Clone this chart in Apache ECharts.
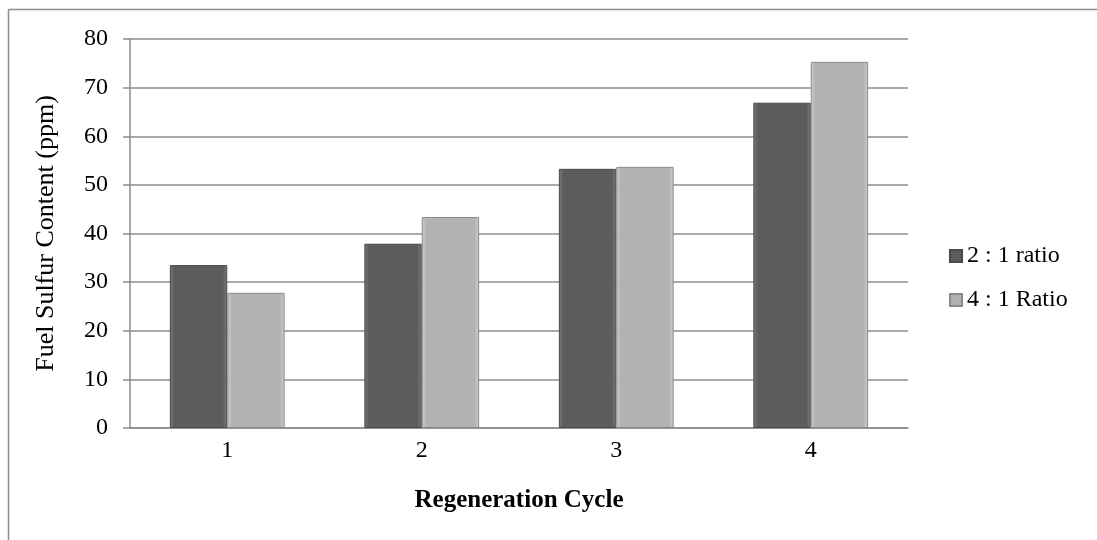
<!DOCTYPE html>
<html>
<head>
<meta charset="utf-8">
<script src="https://cdn.jsdelivr.net/npm/echarts@6/dist/echarts.min.js"></script>
<style>
  html, body { margin: 0; padding: 0; background: #fff; }
  #chart { width: 1097px; height: 540px; }
</style>
</head>
<body>
<div id="chart"></div>
<script>
// data
const cycles = ["1", "2", "3", "4"];
const ratio21 = [33.5, 37.9, 53.3, 66.9];
const ratio41 = [27.8, 43.4, 53.7, 75.3];
const yTicks = [0, 10, 20, 30, 40, 50, 60, 70, 80];

// bevel-ish fill: lighter edges, flat middle
function bevel(base, edge) {
  return new echarts.graphic.LinearGradient(0, 0, 1, 0, [
    { offset: 0, color: edge },
    { offset: 0.08, color: base },
    { offset: 0.92, color: base },
    { offset: 1, color: edge }
  ]);
}

const chart = echarts.init(document.getElementById("chart"));
const font = "'Liberation Serif', 'Times New Roman', serif";

chart.setOption({
  animation: false,
  textStyle: { fontFamily: font },
  grid: { left: 130, right: 189, top: 39, bottom: 112 },
  legend: {
    orient: "vertical",
    left: 944,
    top: 239,
    itemWidth: 12,
    itemHeight: 12,
    itemGap: 20,
    icon: "rect",
    textStyle: { fontFamily: font, fontSize: 24, color: "#000" },
    data: ["2 : 1 ratio", "4 : 1 Ratio"]
  },
  xAxis: {
    type: "category",
    data: cycles,
    name: "Regeneration Cycle",
    nameLocation: "middle",
    nameGap: 60,
    nameTextStyle: { fontFamily: font, fontSize: 25, fontWeight: "bold", color: "#000" },
    axisLine: { lineStyle: { color: "#8c8c8c", width: 1.5 } },
    axisTick: { length: 6, lineStyle: { color: "#8c8c8c", width: 1.5 } },
    axisLabel: { fontFamily: font, fontSize: 24, color: "#000", margin: 11 }
  },
  yAxis: {
    type: "value",
    min: 0,
    max: 80,
    interval: 10,
    name: "Fuel Sulfur Content (ppm)",
    nameLocation: "middle",
    nameGap: 71,
    nameTextStyle: { fontFamily: font, fontSize: 26, color: "#000" },
    axisLine: { show: true, lineStyle: { color: "#8c8c8c", width: 1.5 } },
    axisTick: { show: true, length: 7, lineStyle: { color: "#8c8c8c", width: 1.5 } },
    axisLabel: {
      fontFamily: font, fontSize: 24, color: "#000", margin: 22,
      formatter: v => (yTicks.includes(v) ? String(v) : "")
    },
    splitLine: { lineStyle: { color: "#8c8c8c", width: 1.5 } }
  },
  series: [
    {
      name: "2 : 1 ratio",
      type: "bar",
      data: ratio21,
      barGap: "0%",
      barCategoryGap: "41%",
      itemStyle: {
        color: bevel("#5c5c5c", "#7a7a7a"),
        borderColor: "#4a4a4a",
        borderWidth: 1
      }
    },
    {
      name: "4 : 1 Ratio",
      type: "bar",
      data: ratio41,
      itemStyle: {
        color: bevel("#b2b2b2", "#cfcfcf"),
        borderColor: "#8a8a8a",
        borderWidth: 1
      }
    }
  ],
  graphic: [
    // outer frame, only top and left edges are visible in the picture
    { type: "line", shape: { x1: 8.5, y1: 9.5, x2: 1097, y2: 9.5 }, style: { stroke: "#8c8c8c", lineWidth: 1.5 } },
    { type: "line", shape: { x1: 8.5, y1: 9.5, x2: 8.5, y2: 540 }, style: { stroke: "#8c8c8c", lineWidth: 1.5 } }
  ]
});
</script>
</body>
</html>
